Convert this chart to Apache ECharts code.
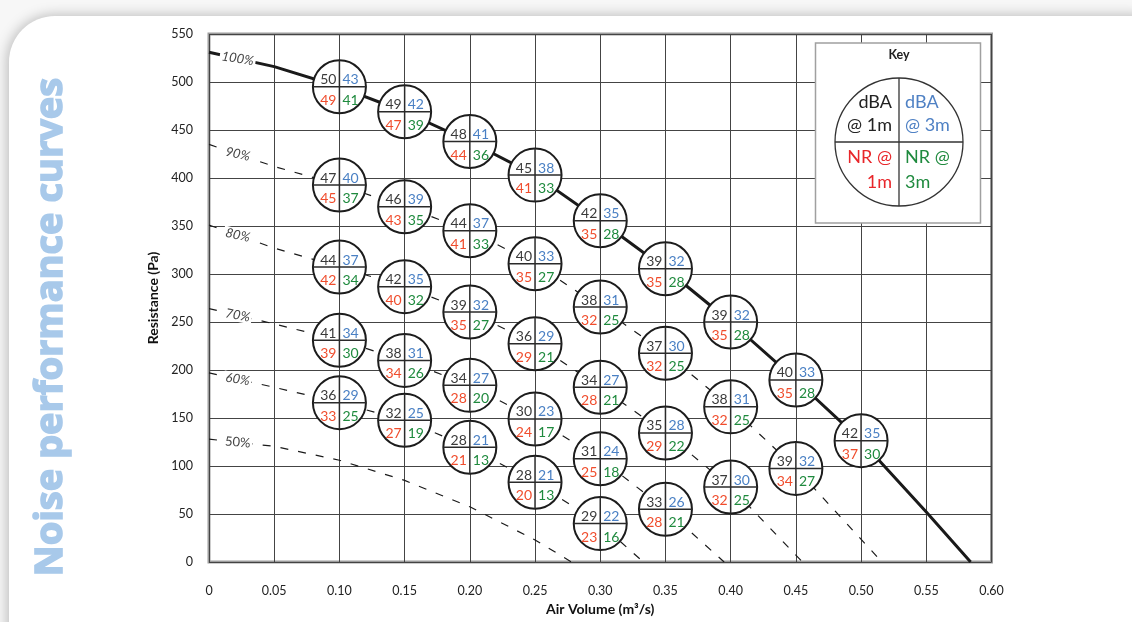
<!DOCTYPE html>
<html>
<head>
<meta charset="utf-8">
<script src="https://cdn.jsdelivr.net/npm/echarts/dist/echarts.min.js"></script>
<style>
html,body{margin:0;padding:0;background:#f7f7f7;overflow:hidden;}
#c{width:1132px;height:622px;}
</style>
</head>
<body>
<div id="c"></div>
<script>
// ---------- data ----------
const xTickLabels = ['0','0.05','0.10','0.15','0.20','0.25','0.30','0.35','0.40','0.45','0.50','0.55','0.60'];
const yTickLabels = ['0','50','100','150','200','250','300','350','400','450','500','550'];
const curveNames = ['100%','90%','80%','70%','60%','50%'];

// fan curves: [air volume m3/s, resistance Pa]
const curve100 = [[0,531],[0.05,516],[0.10,495],[0.15,469],[0.20,438],[0.25,403],[0.30,355.5],[0.35,305.5],[0.40,250],[0.45,189.6],[0.50,126.4],[0.55,52],[0.584,0]];
const curve90  = [[0,435],[0.05,412],[0.10,392.7],[0.15,370],[0.20,345],[0.25,310.7],[0.30,265.6],[0.35,217.5],[0.40,161.6],[0.45,97.5],[0.516,0]];
const curve80  = [[0,351],[0.05,327],[0.10,307.3],[0.15,286.8],[0.20,260.4],[0.25,227.4],[0.30,182],[0.35,134.4],[0.40,78.1],[0.455,0]];
const curve70  = [[0,264],[0.05,248],[0.10,231],[0.15,210],[0.20,184],[0.25,149],[0.30,107.6],[0.35,54.9],[0.395,0]];
const curve60  = [[0,197],[0.05,182],[0.10,166],[0.15,147.6],[0.20,119.5],[0.25,83],[0.30,40],[0.333,0]];
const curve50  = [[0,128],[0.05,120.5],[0.10,106],[0.15,85],[0.20,57.5],[0.25,23],[0.278,0]];

// noise values at 0.10, 0.15, ... on each curve: [dBA@1m, dBA@3m, NR@1m, NR@3m]
const noise100 = [[50,43,49,41],[49,42,47,39],[48,41,44,36],[45,38,41,33],[42,35,35,28],[39,32,35,28],[39,32,35,28],[40,33,35,28],[42,35,37,30]];
const noise90  = [[47,40,45,37],[46,39,43,35],[44,37,41,33],[40,33,35,27],[38,31,32,25],[37,30,32,25],[38,31,32,25],[39,32,34,27]];
const noise80  = [[44,37,42,34],[42,35,40,32],[39,32,35,27],[36,29,29,21],[34,27,28,21],[35,28,29,22],[37,30,32,25]];
const noise70  = [[41,34,39,30],[38,31,34,26],[34,27,28,20],[30,23,24,17],[31,24,25,18],[33,26,28,21]];
const noise60  = [[36,29,33,25],[32,25,27,19],[28,21,21,13],[28,21,20,13],[29,22,23,16]];

// ---------- build ----------
const curves = [curve100, curve90, curve80, curve70, curve60, curve50];
const noises = [noise100, noise90, noise80, noise70, noise60];
const labelRotate = [-9, -13, -13, -10, -9, -4];
const labelX = 0.022;

function interp(curve, x) {
  for (let i = 0; i < curve.length - 1; i++) {
    const a = curve[i], b = curve[i + 1];
    if (x >= a[0] && x <= b[0]) return a[1] + (b[1] - a[1]) * (x - a[0]) / (b[0] - a[0]);
  }
  return curve[curve.length - 1][1];
}

const circleRows = [];
noises.forEach((nz, ci) => {
  nz.forEach((n, i) => {
    const p = curves[ci][i + 2];
    circleRows.push([p[0], p[1], n[0], n[1], n[2], n[3]]);
  });
});

const numColors = ['#3a3a3a', '#4a80c4', '#f04d2d', '#1f8a3e'];
const R = 26.5;

function renderCircle(params, api) {
  const c = api.coord([api.value(0), api.value(1)]);
  const cx = c[0], cy = c[1];
  const font = '14px Lato';
  const t = (v, x, y, align, col) => ({
    type: 'text', x: x, y: y,
    style: { text: String(v), fill: col, font: font, align: align, verticalAlign: 'middle' }
  });
  return {
    type: 'group',
    children: [
      { type: 'circle', shape: { cx: cx, cy: cy, r: R }, style: { fill: '#fff', stroke: '#1c1c1c', lineWidth: 2 } },
      { type: 'line', shape: { x1: cx - R, y1: cy, x2: cx + R, y2: cy }, style: { stroke: '#2a2a2a', lineWidth: 1.5 } },
      { type: 'line', shape: { x1: cx, y1: cy - R, x2: cx, y2: cy + R }, style: { stroke: '#2a2a2a', lineWidth: 1.5 } },
      t(api.value(2), cx - 3, cy - 7, 'right', numColors[0]),
      t(api.value(3), cx + 3, cy - 7, 'left', numColors[1]),
      t(api.value(4), cx - 3, cy + 13.5, 'right', numColors[2]),
      t(api.value(5), cx + 3, cy + 13.5, 'left', numColors[3])
    ]
  };
}

const lineSeries = curves.map((cv, i) => ({
  type: 'line',
  name: curveNames[i],
  data: cv,
  symbol: 'none',
  silent: true,
  z: 2,
  clip: true,
  lineStyle: i === 0
    ? { color: '#1a1a1a', width: 3 }
    : { color: '#1a1a1a', width: 1.2, type: [8, 10] },
  markPoint: {
    symbol: 'rect',
    symbolSize: 0,
    silent: true,
    data: [{
      coord: [labelX, interp(cv, labelX)],
      label: {
        show: true,
        position: 'inside',
        formatter: curveNames[i],
        rotate: labelRotate[i],
        fontFamily: 'Lato',
        fontStyle: i === 5 ? 'normal' : 'italic',
        fontSize: 13,
        color: '#444',
        backgroundColor: '#fff',
        padding: [0, 2]
      }
    }]
  }
}));

const kx = 899, ky = 142, kr = 64;
const keyFont = '18px Lato';
const keyText = (txt, x, y, align, col) => ({
  type: 'text', x: x, y: y, z: 101,
  style: { text: txt, fill: col, font: keyFont, align: align, verticalAlign: 'middle' }
});

const option = {
  animation: false,
  backgroundColor: 'transparent',
  grid: {
    left: 209, right: 140.5, top: 34, bottom: 60,
    show: true, borderColor: '#9c9c9c', borderWidth: 3,
    containLabel: false, outerBoundsMode: 'none'
  },
  xAxis: {
    type: 'value', min: 0, max: 0.6, interval: 0.05,
    axisLine: { show: false }, axisTick: { show: false },
    splitLine: { show: true, lineStyle: { color: '#444', width: 1 } },
    axisLabel: {
      color: '#222', fontSize: 12.5, fontFamily: 'Lato', margin: 22,
      formatter: v => xTickLabels[Math.round(v / 0.05)]
    },
    name: 'Air Volume (m³/s)', nameLocation: 'middle', nameGap: 40,
    nameTextStyle: { fontFamily: 'Lato', fontWeight: 'bold', fontSize: 14, color: '#111' }
  },
  yAxis: {
    type: 'value', min: 0, max: 550, interval: 50,
    axisLine: { show: false }, axisTick: { show: false },
    splitLine: { show: true, lineStyle: { color: '#444', width: 1 } },
    axisLabel: {
      color: '#222', fontSize: 12.5, fontFamily: 'Lato', margin: 16,
      formatter: v => yTickLabels[Math.round(v / 50)]
    },
    name: 'Resistance (Pa)', nameLocation: 'middle', nameGap: 46,
    nameTextStyle: { fontFamily: 'Lato', fontWeight: 'bold', fontSize: 14, color: '#111' }
  },
  graphic: [
    {
      type: 'rect', z: -100, silent: true,
      shape: { x: 9, y: 16, width: 1170, height: 660, r: 46 },
      style: { fill: '#fff', shadowBlur: 14, shadowColor: 'rgba(0,0,0,0.28)', shadowOffsetX: -1, shadowOffsetY: 0 }
    },
    {
      type: 'text', x: 51, y: 327, rotation: Math.PI / 2, z: 5,
      style: {
        text: 'Noise performance curves', fill: '#a8c9ea', stroke: '#a8c9ea', lineWidth: 1.6,
        font: 'bold 38px "Open Sans"', align: 'center', verticalAlign: 'middle'
      }
    },
    {
      type: 'rect', z: 100, shape: { x: 815.5, y: 43, width: 165, height: 180 },
      style: { fill: '#fff', stroke: '#a0a0a0', lineWidth: 1.5 }
    },
    {
      type: 'text', x: 899, y: 55, z: 101,
      style: { text: 'Key', fill: '#222', font: 'bold 12.5px Lato', align: 'center', verticalAlign: 'middle' }
    },
    {
      type: 'circle', z: 101, shape: { cx: kx, cy: ky, r: kr },
      style: { fill: '#fff', stroke: '#333', lineWidth: 1.3 }
    },
    { type: 'line', z: 101, shape: { x1: kx, y1: ky - kr, x2: kx, y2: ky + kr }, style: { stroke: '#333', lineWidth: 1.3 } },
    { type: 'line', z: 101, shape: { x1: kx - kr, y1: ky, x2: kx + kr, y2: ky }, style: { stroke: '#333', lineWidth: 1.3 } },
    keyText('dBA', kx - 7, 102, 'right', '#222'),
    keyText('@ 1m', kx - 7, 125, 'right', '#222'),
    keyText('dBA', kx + 6, 102, 'left', '#4f81c4'),
    keyText('@ 3m', kx + 6, 125, 'left', '#4f81c4'),
    keyText('NR @', kx - 7, 157, 'right', '#e8262a'),
    keyText('1m', kx - 7, 182, 'right', '#e8262a'),
    keyText('NR @', kx + 6, 157, 'left', '#1f8a3e'),
    keyText('3m', kx + 6, 182, 'left', '#1f8a3e')
  ],
  series: lineSeries.concat([{
    type: 'custom',
    name: 'noise',
    coordinateSystem: 'cartesian2d',
    renderItem: renderCircle,
    data: circleRows,
    clip: false,
    silent: true,
    z: 10
  }])
};

const chart = echarts.init(document.getElementById('c'), null, { renderer: 'canvas' });
chart.setOption(option);
</script>
</body>
</html>
